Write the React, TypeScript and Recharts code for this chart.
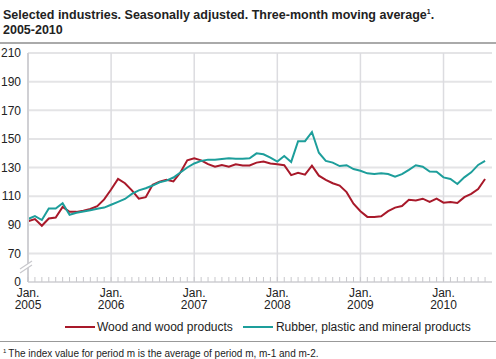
import { LineChart, Line, XAxis, YAxis, CartesianGrid, ReferenceLine } from 'recharts'

const years = ['2005', '2006', '2007', '2008', '2009', '2010']

const wood = [
  92.5, 94, 89.3, 94.4, 95, 102.5, 99, 99, 99.8, 101, 103, 107.7,
  114.6, 122, 119, 114, 108.2, 109.3, 118, 120, 121.5, 120.3, 126.5, 135,
  136.4, 135, 132.3, 130.5, 131.8, 130.5, 132.3, 131.4, 131.4, 133.4, 134.1, 132.8,
  132.3, 131.6, 124.7, 126.3, 125, 131.3, 124.3, 121.3, 119, 117.4, 112.8, 104.7,
  99.4, 95.5, 95.5, 95.9, 99.5, 102, 103.1, 107.5, 107, 108.2, 105.9, 108.2,
  105.4, 105.9, 105.2, 109.3, 111.6, 115, 122,
]

const rubber = [
  94, 96, 93.3, 101.4, 101.4, 105, 97, 98.4, 99.3, 100.2, 101.2, 102,
  104, 106, 108, 111.6, 114, 115.5, 117.4, 119.7, 120.8, 123, 126.5, 130,
  132.8, 134.6, 135.5, 135.5, 136, 136.4, 136.2, 136.2, 136.4, 139.9, 139.2, 136.9,
  134.1, 138, 133.9, 148.4, 148.4, 154.8, 140.3, 134.6, 133.4, 131, 131.6, 128.9,
  127.7, 125.9, 125.4, 125.9, 125.4, 123.6, 125.4, 128.4, 131.6, 130.5, 127.2, 127,
  123.1, 122, 118.5, 123.1, 126.6, 131.8, 134.6,
]

// 50 on the scale is shown as "0" (broken axis)
const yTicks = [50, 70, 90, 110, 130, 150, 170, 190, 210]

const data = wood.map((w, i) => ({ t: i, wood: w, rubber: rubber[i] }))
const monthTicks = data.map((d) => d.t)
const janTicks = [12, 24, 36, 48, 60]

const font = '"Liberation Sans", Arial, sans-serif'
const red = '#a8192a'
const teal = '#1d9e9b'

function MonthTick({ x, y, payload }: any) {
  const i = payload.value as number
  const isJan = i % 12 === 0
  return (
    <g>
      <line x1={x} x2={x} y1={y} y2={y - 5} stroke="#c8c8cc" />
      {isJan && (
        <text x={x} y={y} textAnchor="middle" fontSize={12} fill="#222" fontFamily={font}>
          <tspan x={x} dy={15}>Jan.</tspan>
          <tspan x={x} dy={12}>{years[i / 12]}</tspan>
        </text>
      )}
    </g>
  )
}

export default function App() {
  return (
    <div style={{ position: 'absolute', left: 0, top: 0, width: 496, height: 359, fontFamily: font, color: '#222', background: '#fff' }}>
      <div style={{ position: 'absolute', left: 3, top: 4, fontSize: 12.5, fontWeight: 'bold', lineHeight: '15px', whiteSpace: 'nowrap' }}>
        Selected industries. Seasonally adjusted. Three-month moving average<sup style={{ fontSize: 7 }}>1</sup>.
        <br />
        2005-2010
      </div>
      <div style={{ position: 'absolute', left: 0, top: 42, width: 496, height: 2, background: '#aaa' }} />

      <div style={{ position: 'absolute', left: 0, top: 0 }}>
        <LineChart width={496} height={320} data={data} margin={{ top: 53, right: 4, left: 0, bottom: 0 }}>
          <CartesianGrid vertical={false} stroke="#e4e4e6" strokeWidth={2} />
          {janTicks.map((t) => (
            <ReferenceLine key={t} x={t} stroke="#dcdce0" strokeWidth={1.5} />
          ))}
          <XAxis
            dataKey="t"
            type="number"
            domain={[0, 67]}
            ticks={monthTicks}
            interval={0}
            tick={<MonthTick />}
            tickLine={false}
            tickSize={0}
            tickMargin={0}
            height={38}
            axisLine={{ stroke: '#d0d0d4' }}
          />
          <YAxis
            type="number"
            domain={[50, 210]}
            ticks={yTicks}
            interval={0}
            tickFormatter={(v: number) => (v === 50 ? '0' : String(v))}
            width={28}
            tickLine={false}
            tickSize={0}
            tickMargin={7}
            axisLine={{ stroke: '#d0d0d4', strokeWidth: 2 }}
            tick={{ fontSize: 12, fill: '#222', fontFamily: font }}
          />
          <Line dataKey="wood" stroke={red} strokeWidth={2} dot={false} isAnimationActive={false} />
          <Line dataKey="rubber" stroke={teal} strokeWidth={2} dot={false} isAnimationActive={false} />
        </LineChart>
      </div>

      <svg style={{ position: 'absolute', left: 0, top: 0 }} width={60} height={300}>
        <polygon points="20,269 32,261 32,265 20,273" fill="#fff" />
        <line x1={20} y1={269} x2={32} y2={261} stroke="#c8c8cc" strokeWidth={1.2} />
        <line x1={20} y1={273} x2={32} y2={265} stroke="#c8c8cc" strokeWidth={1.2} />
      </svg>

      <div style={{ position: 'absolute', left: 65, top: 319, height: 16, display: 'flex', alignItems: 'center', fontSize: 12, whiteSpace: 'nowrap' }}>
        <span style={{ display: 'inline-block', width: 30, height: 2, background: red, marginRight: 2 }} />
        <span>Wood and wood products</span>
        <span style={{ display: 'inline-block', width: 30, height: 2, background: teal, marginLeft: 10, marginRight: 3 }} />
        <span>Rubber, plastic and mineral products</span>
      </div>

      <div style={{ position: 'absolute', left: 0, top: 341, width: 496, height: 1, background: '#999' }} />
      <div style={{ position: 'absolute', left: 3, top: 345, fontSize: 10, lineHeight: '13px', whiteSpace: 'nowrap' }}>
        <sup style={{ fontSize: 6, marginRight: 2 }}>1</sup>The index value for period m is the average of period m, m-1 and m-2.
      </div>
    </div>
  )
}
